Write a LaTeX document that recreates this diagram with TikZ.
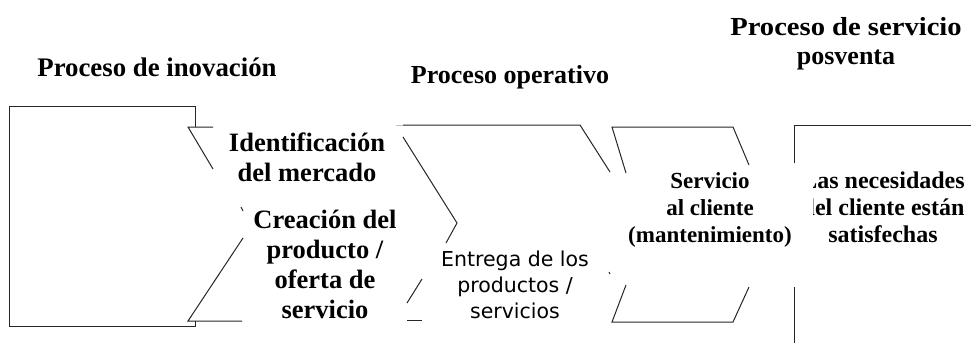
\documentclass[tikz,border=0pt]{standalone}
\usepackage{fontspec}
\setmainfont{Liberation Serif}
\newfontfamily\sansf{DejaVu Sans}
\newfontfamily\widef[FakeStretch=1.1]{Liberation Serif}
\newcommand\stk[1]{\vtop{\halign{\hfil##\hfil\cr#1\crcr}}}
\begin{document}
\begin{tikzpicture}[x=1pt,y=-1pt,
  seg/.style={line width=1pt, draw=black!85},
  title/.style={inner sep=0pt, anchor=base, font=\fontsize{26.8}{29}\selectfont\bfseries},
  biglbl/.style={inner sep=0pt, anchor=base, font=\fontsize{26.5}{30}\selectfont\bfseries},
  smalllbl/.style={inner sep=0pt, anchor=base, font=\fontsize{23}{27}\selectfont\bfseries},
  sanslbl/.style={inner sep=0pt, anchor=base, font=\sansf\fontsize{20.5}{26}\selectfont}]
\useasboundingbox[fill=white] (0,0) rectangle (971,343);

% titles
\node[title] (t1) at (157,76) {Proceso de inovación};
\node[title, font=\fontsize{26}{29}\selectfont\bfseries] (t2) at (510,83) {Proceso operativo};
\node[title, font=\fontsize{26}{29}\selectfont\bfseries] (t3) at (846,35) {\stk{{\widef\bfseries Proceso de servicio}\cr posventa}};

% shape 1: rectangle
\draw[seg] (195,127) -- (195,106) -- (9,106) -- (9,326) -- (195,326) -- (195,321);
% chevron 1
\draw[seg] (213,127) -- (188,127) -- (213,169);
\draw[seg] (241,207) -- (243,211);
\draw[seg] (243,238) -- (188,321) -- (242,321);

% shape 2
\draw[line width=1pt, draw=black!25] (396,125) -- (403,125);
\draw[seg] (403,125) -- (580,125) -- (610,172);
\draw[seg] (403,137) -- (457,223) -- (446,243);
\draw[seg] (422,279) -- (407,303);
\draw[seg] (407,320) -- (422,320);
\draw[seg] (609,272) -- (610,274);

% shape 3
\draw[seg] (626,173) -- (612,127) -- (733,127) -- (749,165);
\draw[seg] (626,285) -- (612,322) -- (733,322) -- (749,287);

% shape 4
\draw[seg] (794,163) -- (794,125) -- (971,125);
\draw[seg] (794,287) -- (794,343);

% labels
\node[biglbl] (ident) at (307,151) {\stk{Identificación\cr del mercado}};
\node[biglbl] (crea) at (325,228) {\stk{Creación del\cr producto /\cr oferta de\cr servicio}};
\node[sanslbl] (entr) at (515,266) {\stk{Entrega de los\cr productos /\cr servicios}};
\node[smalllbl] (serv) at (710,188) {\stk{Servicio\cr al cliente\cr (mantenimiento)}};
\begin{scope}
\clip (813,150) rectangle (971,260);
\node[smalllbl, font=\fontsize{24}{27}\selectfont\bfseries] (nec) at (883,188) {\stk{Las necesidades\cr del cliente están\cr satisfechas}};
\end{scope}
\end{tikzpicture}
\end{document}
